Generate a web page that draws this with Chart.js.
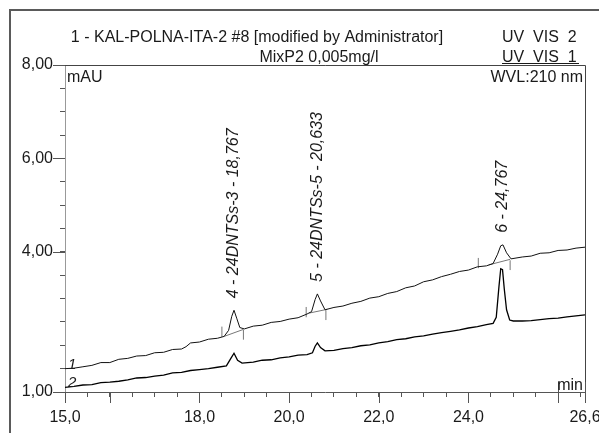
<!DOCTYPE html>
<html>
<head>
<meta charset="utf-8">
<script src="https://cdn.jsdelivr.net/npm/chart.js@4.4.1/dist/chart.umd.min.js"></script>
<style>
html, body { margin: 0; padding: 0; background: #fff; overflow: hidden; }
canvas { display: block; }
</style>
</head>
<body>
<canvas id="chrom" width="599" height="433"></canvas>
<script>
// channel 1 (UV_VIS_1, upper trace)
const times1 = [15.0, 15.2, 15.4, 15.6, 15.8, 16.0, 16.2, 16.4, 16.6, 16.8, 17.0, 17.2, 17.4, 17.6, 17.7, 17.8,
  18.0, 18.2, 18.4, 18.55, 18.65, 18.72, 18.77, 18.83, 18.9, 19.0, 19.2, 19.4, 19.6, 19.8, 20.0, 20.2, 20.4,
  20.5, 20.58, 20.63, 20.7, 20.8, 21.0, 21.2, 21.4, 21.6, 21.8, 22.0, 22.2, 22.4, 22.6, 22.8, 23.0, 23.2, 23.4,
  23.6, 23.8, 24.0, 24.2, 24.4, 24.55, 24.65, 24.72, 24.77, 24.85, 24.95, 25.2, 25.4, 25.6, 25.8, 26.0, 26.2, 26.4, 26.6];
const signal1 = [1.50, 1.51, 1.54, 1.57, 1.63, 1.63, 1.70, 1.72, 1.77, 1.78, 1.84, 1.85, 1.91, 1.92, 1.97, 2.05,
  2.07, 2.13, 2.15, 2.19, 2.32, 2.62, 2.75, 2.58, 2.38, 2.35, 2.41, 2.43, 2.49, 2.51, 2.56, 2.59, 2.67,
  2.72, 2.98, 3.10, 2.95, 2.76, 2.81, 2.84, 2.90, 2.94, 3.01, 3.04, 3.11, 3.15, 3.23, 3.27, 3.36, 3.40, 3.47,
  3.52, 3.58, 3.61, 3.68, 3.70, 3.75, 3.95, 4.13, 4.15, 3.98, 3.85, 3.89, 3.91, 3.97, 3.98, 4.03, 4.04, 4.08, 4.10];

// channel 2 (UV_VIS_2, lower trace)
const times2 = [15.0, 15.2, 15.4, 15.6, 15.8, 16.0, 16.2, 16.4, 16.6, 16.8, 17.0, 17.2, 17.4, 17.6, 17.8, 18.0,
  18.2, 18.4, 18.6, 18.7, 18.77, 18.85, 18.95, 19.2, 19.4, 19.6, 19.8, 20.0, 20.2, 20.4, 20.52, 20.58, 20.63,
  20.7, 20.8, 21.0, 21.2, 21.4, 21.6, 21.8, 22.0, 22.2, 22.4, 22.6, 22.8, 23.0, 23.2, 23.4, 23.6, 23.8, 24.0,
  24.2, 24.4, 24.55, 24.62, 24.68, 24.72, 24.76, 24.8, 24.85, 24.92, 25.0, 25.2, 25.4, 25.6, 25.8, 26.0, 26.2, 26.4, 26.6];
const signal2 = [1.10, 1.12, 1.15, 1.16, 1.20, 1.21, 1.23, 1.26, 1.30, 1.31, 1.34, 1.36, 1.41, 1.42, 1.46, 1.48,
  1.50, 1.53, 1.56, 1.72, 1.83, 1.68, 1.62, 1.64, 1.68, 1.69, 1.73, 1.75, 1.79, 1.80, 1.84, 1.98, 2.05,
  1.95, 1.88, 1.89, 1.93, 1.95, 1.99, 2.01, 2.05, 2.08, 2.12, 2.14, 2.18, 2.20, 2.24, 2.27, 2.30, 2.33, 2.37,
  2.40, 2.44, 2.47, 2.60, 3.25, 3.64, 3.62, 3.20, 2.76, 2.54, 2.52, 2.52, 2.53, 2.55, 2.57, 2.58, 2.61, 2.63, 2.65];

// integration baselines and peak delimiters on channel 1 (null = break)
const intTimes = [18.55, 18.98, null, 18.5, 18.5, null, 18.98, 18.98, null,
  20.45, 20.85, null, 20.38, 20.38, null, 20.82, 20.82, null,
  24.45, 24.93, null, 24.22, 24.22, null, 24.93, 24.93];
const intValues = [2.19, 2.34, null, 2.18, 2.40, null, 2.12, 2.33, null,
  2.69, 2.77, null, 2.60, 2.82, null, 2.54, 2.75, null,
  3.72, 3.84, null, 3.65, 3.87, null, 3.61, 3.82];

const peakTimes = [18.767, 20.633, 24.767];
const peakTops = [2.75, 3.10, 4.15];
const peakLabels = ["4 - 24DNTSs-3 - 18,767", "5 - 24DNTSs-5 - 20,633", "6 - 24,767"];

const xLabelled = [15, 18, 20, 22, 24, 26.6];
const xLong = [15, 16, 18, 20, 22, 24, 26, 26.6];
const yLabelled = [1, 4, 6, 8];

const FONT = '"Liberation Sans", Arial, sans-serif';

function pts(xs, ys) {
  return xs.map((x, i) => ({ x: x === null ? 20 : x, y: ys[i] }));
}

function stepTicks(from, to, step, extra) {
  const out = [];
  for (let v = from; v <= to + 1e-9; v += step) out.push(Math.round(v * 10) / 10);
  if (extra !== undefined) out.push(extra);
  return out.map(v => ({ value: v }));
}

const decor = {
  id: 'decor',
  afterDraw(chart) {
    const ctx = chart.ctx;
    const a = chart.chartArea;
    const xs = chart.scales.x, ys = chart.scales.y;
    ctx.save();
    // outer frame
    ctx.strokeStyle = '#5a5a5a';
    ctx.lineWidth = 2;
    ctx.beginPath();
    ctx.moveTo(10, 433); ctx.lineTo(10, 10); ctx.lineTo(599, 10);
    ctx.stroke();
    // top and right border of plot
    ctx.lineWidth = 1;
    ctx.strokeStyle = '#444';
    ctx.beginPath();
    ctx.moveTo(a.left, a.top + 0.5); ctx.lineTo(a.right + 0.5, a.top + 0.5); ctx.lineTo(a.right + 0.5, a.bottom);
    ctx.stroke();
    // longer major ticks
    ctx.strokeStyle = '#555';
    ctx.beginPath();
    xLong.forEach(v => {
      const px = Math.round(xs.getPixelForValue(v)) + 0.5;
      ctx.moveTo(px, a.bottom); ctx.lineTo(px, a.bottom + 11);
    });
    yLabelled.forEach(v => {
      const py = Math.round(ys.getPixelForValue(v)) + 0.5;
      ctx.moveTo(a.left, py); ctx.lineTo(a.left - 12, py);
    });
    ctx.moveTo(Math.round(xs.getPixelForValue(26)) + 0.5, a.bottom - 10);
    ctx.lineTo(Math.round(xs.getPixelForValue(26)) + 0.5, a.bottom);
    ctx.moveTo(a.right + 0.5, a.bottom - 10);
    ctx.lineTo(a.right + 0.5, a.bottom);
    ctx.stroke();

    ctx.fillStyle = '#1a1a1a';
    ctx.font = '16px ' + FONT;
    ctx.textBaseline = 'alphabetic';
    ctx.textAlign = 'center';
    ctx.fillText('1 - KAL-POLNA-ITA-2 #8 [modified by Administrator]', 257, 42);
    ctx.fillText('MixP2 0,005mg/l', 319, 62);
    ctx.textAlign = 'left';
    ctx.fillText('UV  VIS  2', 502, 42);
    ctx.fillText('UV  VIS  1', 502, 62);
    ctx.fillRect(502, 63, 77, 1);
    ctx.fillText('mAU', a.left + 2, 82);
    ctx.textAlign = 'right';
    ctx.fillText('WVL:210 nm', a.right - 2, 82);
    ctx.fillText('min', a.right - 2, a.bottom - 2);

    // trace numbers
    ctx.font = 'italic 15px ' + FONT;
    ctx.textAlign = 'left';
    ctx.fillText('1', a.left + 3, ys.getPixelForValue(signal1[0]));
    ctx.fillText('2', a.left + 3, ys.getPixelForValue(signal2[0]));

    // peak labels, rotated
    ctx.font = 'italic 16px ' + FONT;
    ctx.textAlign = 'left';
    ctx.textBaseline = 'middle';
    peakTimes.forEach((t, i) => {
      ctx.save();
      ctx.translate(xs.getPixelForValue(t), ys.getPixelForValue(peakTops[i]) - 12);
      ctx.rotate(-Math.PI / 2);
      ctx.fillText(peakLabels[i], 0, 0);
      ctx.restore();
    });
    ctx.restore();
  }
};

new Chart(document.getElementById('chrom'), {
  type: 'line',
  data: {
    datasets: [
      {
        label: 'UV_VIS_1',
        data: pts(times1, signal1),
        borderColor: '#111',
        borderWidth: 1,
        pointRadius: 0,
        tension: 0
      },
      {
        label: 'UV_VIS_2',
        data: pts(times2, signal2),
        borderColor: '#000',
        borderWidth: 1.3,
        pointRadius: 0,
        tension: 0
      },
      {
        label: 'integration',
        data: pts(intTimes, intValues),
        borderColor: '#777',
        borderWidth: 1,
        pointRadius: 0,
        spanGaps: false,
        tension: 0
      }
    ]
  },
  options: {
    responsive: false,
    animation: false,
    devicePixelRatio: 1,
    layout: { autoPadding: false, padding: { top: 65, right: 14, left: 0, bottom: 0 } },
    plugins: { legend: { display: false }, tooltip: { enabled: false } },
    scales: {
      x: {
        type: 'linear',
        min: 15,
        max: 26.6,
        afterFit(s) { s.height = 41; s.paddingLeft = 0; s.paddingRight = 0; },
        afterBuildTicks(s) { s.ticks = stepTicks(15, 26.5, 0.5, 26.6); },
        grid: { drawOnChartArea: false, drawTicks: true, tickLength: 5, color: '#555' },
        border: { color: '#555' },
        ticks: {
          autoSkip: false,
          maxRotation: 0,
          padding: 11,
          color: '#1a1a1a',
          font: { family: FONT, size: 16 },
          callback: v => xLabelled.some(l => Math.abs(l - v) < 1e-6) ? v.toFixed(1).replace('.', ',') : ''
        }
      },
      y: {
        type: 'linear',
        min: 1,
        max: 8,
        afterFit(s) { s.width = 65; s.paddingTop = 0; s.paddingBottom = 0; },
        afterBuildTicks(s) { s.ticks = stepTicks(1, 8, 0.5); },
        grid: { drawOnChartArea: false, drawTicks: true, tickLength: 5, color: '#555' },
        border: { color: '#999' },
        ticks: {
          autoSkip: false,
          padding: 7,
          color: '#1a1a1a',
          font: { family: FONT, size: 16 },
          callback: v => yLabelled.some(l => Math.abs(l - v) < 1e-6) ? v.toFixed(2).replace('.', ',') : ''
        }
      }
    }
  },
  plugins: [decor]
});
</script>
</body>
</html>
